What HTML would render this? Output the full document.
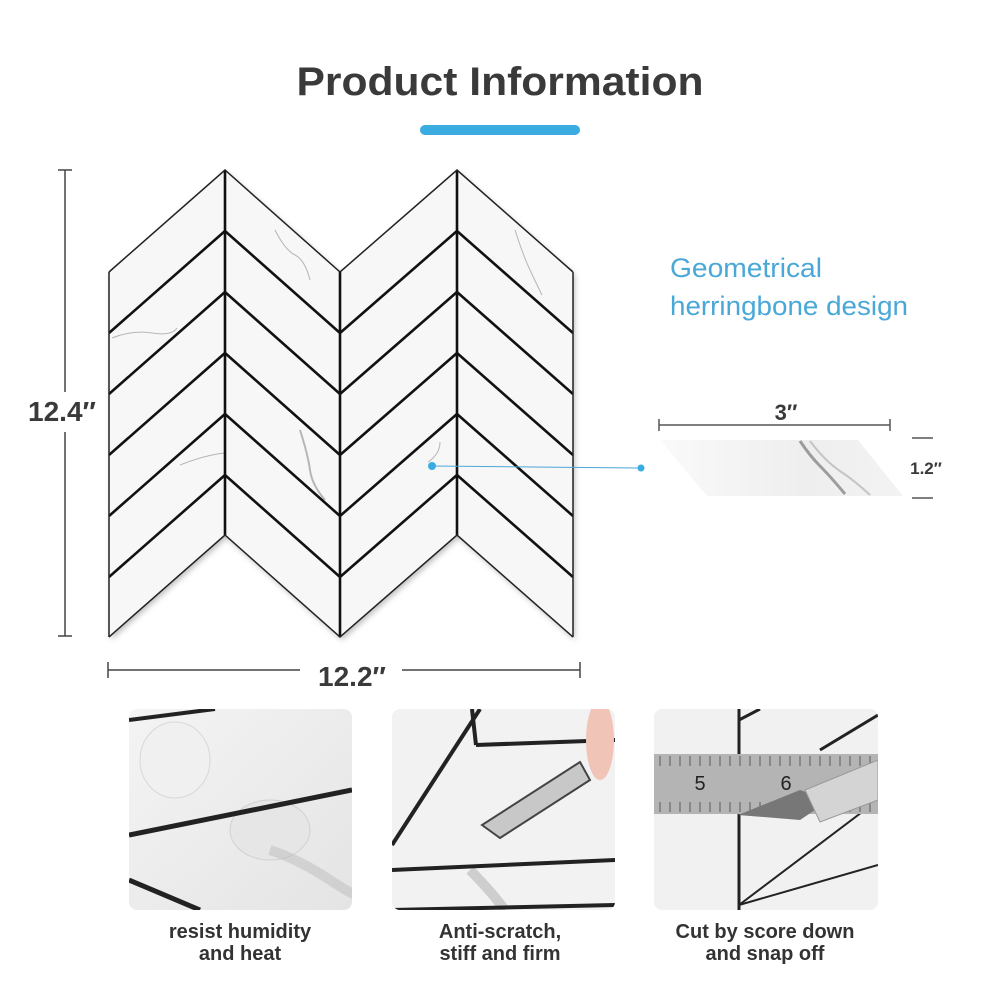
<!DOCTYPE html>
<html><head><meta charset="utf-8"><style>
html,body{margin:0;padding:0;background:#fff;}
svg{display:block;}
text{font-family:"Liberation Sans",sans-serif;}
</style></head><body>
<svg width="1000" height="1000" viewBox="0 0 1000 1000" xmlns="http://www.w3.org/2000/svg">
<defs>
<filter id="sh" x="-10%" y="-10%" width="120%" height="120%"><feDropShadow dx="2" dy="3" stdDeviation="3" flood-color="#000" flood-opacity="0.25"/></filter>
<linearGradient id="g1" x1="0" y1="0" x2="1" y2="1"><stop offset="0" stop-color="#f4f4f4"/><stop offset="1" stop-color="#e4e4e4"/></linearGradient>
<linearGradient id="tile" x1="0" y1="0" x2="1" y2="0"><stop offset="0" stop-color="#fafafa"/><stop offset="0.6" stop-color="#eeeeee"/><stop offset="1" stop-color="#f3f3f3"/></linearGradient>
<clipPath id="c1"><rect x="129" y="709" width="223" height="201" rx="8"/></clipPath>
<clipPath id="c2"><rect x="392" y="709" width="223" height="201" rx="8"/></clipPath>
<clipPath id="c3"><rect x="654" y="709" width="224" height="201" rx="8"/></clipPath>
</defs>

<text x="500" y="95" text-anchor="middle" font-size="40" font-weight="bold" fill="#3a3a3a" textLength="407" lengthAdjust="spacingAndGlyphs">Product Information</text>
<rect x="420" y="125" width="160" height="10" rx="5" fill="#3aace2"/>

<g filter="url(#sh)">
<polygon points="109,272 225,170 340,272 457,170 573,272 573,637 457,535 340,637 225,535 109,637" fill="#f7f7f7"/>
</g>
<g fill="none" stroke="#9a9a9a" stroke-width="1" opacity="0.7">
<path d="M275,230 q10,20 20,25 t15,25"/>
<path d="M515,230 q8,25 15,40 t12,25"/>
<path d="M112,338 q20,-8 40,-5 t25,-5"/>
<path d="M300,430 q8,25 10,40 t15,30" stroke-width="2"/>
<path d="M180,465 q25,-10 45,-12"/>
<path d="M428,462 q12,-8 12,-20"/>
</g>
<g fill="none" stroke="#111" stroke-width="2.6" stroke-linejoin="miter">
<path d="M225,170 L225,535 M340,272 L340,637 M457,170 L457,535"/>
<path d="M109,333 L225,231 L340,333 L457,231 L573,333"/>
<path d="M109,394 L225,292 L340,394 L457,292 L573,394"/>
<path d="M109,455 L225,353 L340,455 L457,353 L573,455"/>
<path d="M109,516 L225,414 L340,516 L457,414 L573,516"/>
<path d="M109,577 L225,475 L340,577 L457,475 L573,577"/>
</g>
<g fill="none" stroke="#222" stroke-width="1.5">
<path d="M109,272 L225,170 L340,272 L457,170 L573,272"/>
<path d="M109,637 L225,535 L340,637 L457,535 L573,637"/>
<path d="M109,272 L109,637 M573,272 L573,637"/>
</g>

<g stroke="#444" stroke-width="1.5">
<line x1="65" y1="170" x2="65" y2="392"/>
<line x1="65" y1="432" x2="65" y2="636"/>
<line x1="58" y1="170" x2="72" y2="170"/>
<line x1="58" y1="636" x2="72" y2="636"/>
<line x1="108" y1="662" x2="108" y2="678"/>
<line x1="108" y1="670" x2="300" y2="670"/>
<line x1="402" y1="670" x2="580" y2="670"/>
<line x1="580" y1="662" x2="580" y2="678"/>
</g>
<text x="62" y="421" text-anchor="middle" font-size="28" font-weight="bold" fill="#3a3a3a">12.4″</text>
<text x="352" y="686" text-anchor="middle" font-size="28" font-weight="bold" fill="#3a3a3a">12.2″</text>

<text x="670" y="277" font-size="27" fill="#4aa8d8" textLength="152" lengthAdjust="spacingAndGlyphs">Geometrical</text>
<text x="670" y="315" font-size="27" fill="#4aa8d8" textLength="238" lengthAdjust="spacingAndGlyphs">herringbone design</text>
<line x1="432" y1="466" x2="641" y2="468" stroke="#4aa8d8" stroke-width="1"/>
<circle cx="432" cy="466" r="4" fill="#3aace2"/>
<circle cx="641" cy="468" r="3.5" fill="#3aace2"/>

<polygon points="660,440 858,440 903,496 707,496" fill="url(#tile)"/>
<path d="M800,441 q10,15 20,25 t25,28" stroke="#666" stroke-width="3" fill="none" opacity="0.6"/>
<path d="M810,441 q15,20 30,30 t30,24" stroke="#999" stroke-width="2" fill="none" opacity="0.5"/>
<g stroke="#555" stroke-width="1.5">
<line x1="659" y1="425" x2="890" y2="425"/>
<line x1="659" y1="419" x2="659" y2="431"/>
<line x1="890" y1="419" x2="890" y2="431"/>
<line x1="912" y1="438" x2="933" y2="438"/>
<line x1="912" y1="498" x2="933" y2="498"/>
</g>
<text x="786" y="420" text-anchor="middle" font-size="22" font-weight="bold" fill="#3a3a3a">3″</text>
<text x="926" y="474" text-anchor="middle" font-size="17" font-weight="bold" fill="#3a3a3a">1.2″</text>

<g clip-path="url(#c1)">
<rect x="129" y="709" width="223" height="201" fill="url(#g1)"/>
<ellipse cx="175" cy="760" rx="35" ry="38" fill="#f0f0f0" stroke="#d8d8d8"/>
<ellipse cx="270" cy="830" rx="40" ry="30" fill="#e6e6e6" stroke="#d0d0d0"/>
<path d="M270,850 q30,10 60,30 t40,20" stroke="#bbb" stroke-width="10" fill="none" opacity="0.5"/>
<line x1="129" y1="720" x2="215" y2="709" stroke="#222" stroke-width="4"/>
<line x1="129" y1="835" x2="352" y2="790" stroke="#222" stroke-width="5"/>
<line x1="129" y1="880" x2="200" y2="910" stroke="#222" stroke-width="5"/>
</g>
<g clip-path="url(#c2)">
<rect x="392" y="709" width="223" height="201" fill="#f2f2f2"/>
<path d="M470,870 q20,20 35,40" stroke="#aaa" stroke-width="10" fill="none" opacity="0.5"/>
<line x1="392" y1="845" x2="480" y2="709" stroke="#222" stroke-width="4"/>
<line x1="472" y1="709" x2="476" y2="745" stroke="#222" stroke-width="4"/>
<line x1="476" y1="745" x2="615" y2="740" stroke="#222" stroke-width="4"/>
<line x1="392" y1="870" x2="615" y2="860" stroke="#222" stroke-width="4"/>
<line x1="392" y1="910" x2="615" y2="905" stroke="#222" stroke-width="4"/>
<polygon points="482,825 500,838 590,780 580,762" fill="#c8c8c8" stroke="#444" stroke-width="2"/>
<ellipse cx="600" cy="740" rx="14" ry="40" fill="#f0c5b8"/>
</g>
<g clip-path="url(#c3)">
<rect x="654" y="709" width="224" height="201" fill="#f1f1f1"/>
<line x1="739" y1="709" x2="739" y2="910" stroke="#222" stroke-width="3"/>
<line x1="739" y1="720" x2="760" y2="709" stroke="#222" stroke-width="3"/>
<line x1="820" y1="750" x2="878" y2="715" stroke="#222" stroke-width="3"/>
<line x1="739" y1="905" x2="878" y2="865" stroke="#222" stroke-width="2"/>
<line x1="739" y1="905" x2="878" y2="800" stroke="#222" stroke-width="2"/>
<rect x="654" y="754" width="224" height="60" fill="#b4b4b4"/>
<g stroke="#444" stroke-width="0.8">
<path d="M660,756v10M670,756v10M680,756v10M690,756v10M700,756v10M710,756v10M720,756v10M730,756v10M740,756v10M750,756v10M760,756v10M770,756v10M780,756v10M790,756v10M800,756v10M810,756v10M820,756v10M830,756v10M840,756v10M850,756v10M860,756v10M870,756v10"/>
<path d="M660,812v-10M670,812v-10M680,812v-10M690,812v-10M700,812v-10M710,812v-10M720,812v-10M730,812v-10M740,812v-10M750,812v-10M760,812v-10M770,812v-10M780,812v-10M790,812v-10M800,812v-10M810,812v-10M820,812v-10M830,812v-10M840,812v-10M850,812v-10M860,812v-10M870,812v-10"/>
</g>
<text x="700" y="790" text-anchor="middle" font-family="Liberation Serif,serif" font-size="20" fill="#222">5</text>
<text x="786" y="790" text-anchor="middle" font-family="Liberation Serif,serif" font-size="20" fill="#222">6</text>
<polygon points="738,815 800,790 830,800 800,820" fill="#777"/>
<polygon points="805,790 878,760 878,800 820,822" fill="#d4d4d4" stroke="#999"/>
</g>

<g font-size="20" font-weight="bold" fill="#333" text-anchor="middle">
<text x="240" y="938">resist humidity</text>
<text x="240" y="960">and heat</text>
<text x="500" y="938">Anti-scratch,</text>
<text x="500" y="960">stiff and firm</text>
<text x="765" y="938">Cut by score down</text>
<text x="765" y="960">and snap off</text>
</g>
</svg>
</body></html>
